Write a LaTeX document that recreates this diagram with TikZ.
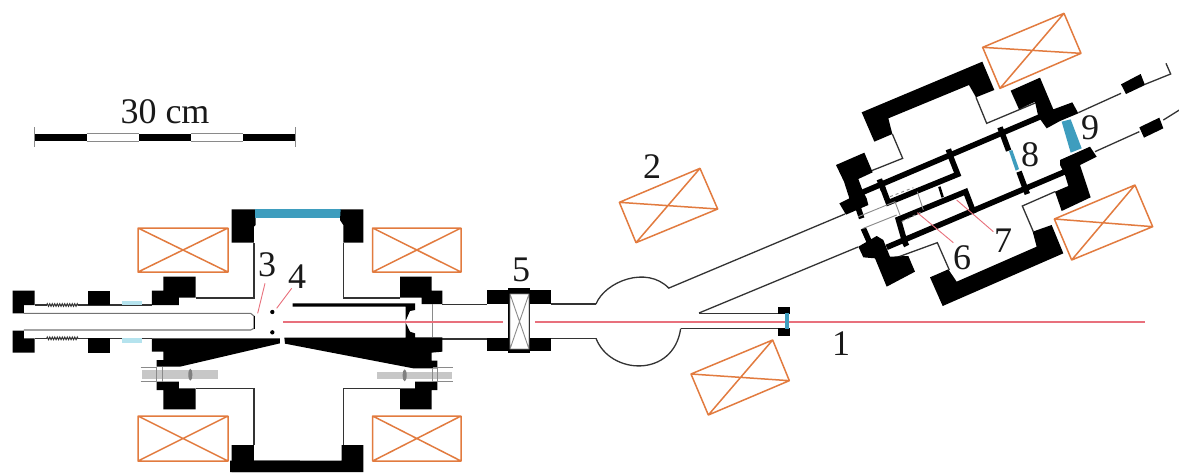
\documentclass[tikz,border=0pt]{standalone}
\usepackage{fontspec}
\setmainfont{Liberation Serif}
\usetikzlibrary{decorations.pathmorphing}
\definecolor{coilc}{HTML}{E27B3F}
\definecolor{winc}{HTML}{3E9DBE}
\definecolor{beamc}{HTML}{E8707C}
\definecolor{palec}{HTML}{B5E3EE}
\definecolor{linec}{HTML}{333333}
\definecolor{greyc}{HTML}{8A8A8A}
\tikzset{
 z1/.style={shift={(0pt,-200pt)},x=0.33333pt,y=-0.33333pt},
 z2/.style={shift={(230pt,-200pt)},x=0.33333pt,y=-0.33333pt},
 z3/.style={shift={(820pt,-50pt)},x=0.33333pt,y=-0.33333pt},
 z4/.style={shift={(470pt,-250pt)},x=0.33333pt,y=-0.33333pt},
 blk/.style={fill=black,draw=none},
 thin line/.style={draw=linec,line width=1.3pt,line join=miter},
 grey line/.style={draw=greyc,line width=0.9pt},
 tube wall/.style={draw=black,line width=5.6pt,line cap=butt},
 pipe/.style={draw=black!55,line width=1.1pt},
 coil/.style={draw=coilc,line width=1.5pt,line join=round},
 beam/.style={draw=beamc,line width=1.5pt},
 pointer/.style={draw=beamc,line width=0.9pt},
 window/.style={fill=winc,draw=none},
 pale/.style={fill=palec,draw=none},
 bolt/.style={fill=black!22,draw=none},
 lab/.style={font=\fontsize{36}{36}\selectfont,text=black!90,inner sep=0pt},
}
\begin{document}
\begin{tikzpicture}[x=1pt,y=-1pt]
\useasboundingbox (0,0) rectangle (1179,472);
\fill[white] (0,0) rectangle (1179,472);

% scale bar
\fill[black] (34.7,133.5) rectangle (86.7,141);
\fill[black] (138.7,133.5) rectangle (190.7,141);
\fill[black] (242.7,133.5) rectangle (295,141);
\draw[grey line] (86.7,133.5) -- (138.7,133.5) (86.7,141) -- (138.7,141) (190.7,133.5) -- (242.7,133.5) (190.7,141) -- (242.7,141);
\draw[grey line] (34.5,127) -- (34.5,147) (295,127) -- (295,147);
\node[lab] (scale) at (165,112) {30 cm};

% coils
\foreach \a/\b/\c/\d in {138/228/228/272,138/228/416/461,372.7/461/228/272,372.7/461/416/461}{
 \draw[coil] (\a,\c) rectangle (\b,\d) (\a,\c) -- (\b,\d) (\a,\d) -- (\b,\c);
}
\begin{scope}[shift={(600pt,-150pt)},x=0.33333pt,y=-0.33333pt]
 \draw[coil] (58,157) -- (300,55) -- (353,177) -- (108,278) -- cycle (58,157) -- (353,177) (300,55) -- (108,278);
\end{scope}
\begin{scope}[shift={(680pt,-330pt)},x=0.33333pt,y=-0.33333pt]
 \draw[coil] (33,132) -- (278,30) -- (328,152) -- (85,255) -- cycle (33,132) -- (328,152) (278,30) -- (85,255);
\end{scope}
\begin{scope}[shift={(970pt,0pt)},x=0.33333pt,y=-0.33333pt]
 \draw[coil] (38,142) -- (282,40) -- (333,160) -- (90,265) -- cycle (38,142) -- (333,160) (282,40) -- (90,265);
\end{scope}
\begin{scope}[z3]
 \draw[coil] (703,507) -- (945,405) -- (998,530) -- (755,630) -- cycle (703,507) -- (998,530) (945,405) -- (755,630);
\end{scope}

% left assembly
\begin{scope}[z1]
 \draw[pipe] (72,340) -- (752,340) -- (762,348) -- (762,385) -- (752,390) -- (72,390);
 \draw[draw=black,line width=1.5pt] (764,348) -- (764,388);
 \draw[thin line] (104,315) -- (140,315) (235,315) -- (456,315);
 \draw[thin line] (104,415) -- (140,415) (235,415) -- (456,415);
 \draw[draw=linec,line width=1pt,decorate,decoration={zigzag,segment length=2.5pt,amplitude=1.3pt}] (140,315) -- (235,315);
 \draw[draw=linec,line width=1pt,decorate,decoration={zigzag,segment length=2.5pt,amplitude=1.3pt}] (140,415) -- (235,415);
 \fill[pale] (365,304) rectangle (425,316);
 \fill[pale] (365,414) rectangle (425,428);
 \fill[blk] (38,272) -- (104,272) -- (104,315) -- (72,315) -- (72,340) -- (38,340) -- cycle;
 \fill[blk] (38,392) -- (72,392) -- (72,415) -- (104,415) -- (104,458) -- (38,458) -- cycle;
 \fill[blk] (265,272) rectangle (330,315);
 \fill[blk] (265,415) rectangle (330,458);
 \fill[blk] (456,315) -- (456,272) -- (490,272) -- (490,230) -- (587,230) -- (587,293) -- (537,293) -- (537,315) -- cycle;
 \draw[thin line] (587,294) -- (762,294) -- (762,128);
 \fill[blk] (695,28) -- (767,28) -- (767,75) -- (762,80) -- (762,128) -- (695,128) -- cycle;
 \fill[blk] (456,415) -- (840,415) -- (840,430) -- (540,500) -- (470,500) -- (470,480) -- (490,480) -- (490,455) -- (456,455) -- cycle;
 \fill[blk] (470,545) -- (537,545) -- (537,565) -- (587,565) -- (587,628) -- (490,628) -- (490,570) -- (470,570) -- cycle;
 \draw[thin line] (587,565) -- (762,565) -- (762,735);
 \fill[bolt] (425,510) rectangle (655,538);
 \draw[grey line] (422,503) -- (470,503) (422,545) -- (470,545) (470,500) -- (470,545) (488,500) -- (488,545);
 \fill[black!50] (571,524) ellipse (6 and 18);
 \fill[blk] (695,735) -- (762,735) -- (762,782) -- (900,782) -- (900,816) -- (695,816) -- cycle;
 \fill[black] (817,336) circle (6.5);
 \fill[black] (817,397) circle (6.5);
 \draw[pointer] (795,250) -- (773,340);
 \draw[pointer] (875,265) -- (830,325);
\end{scope}

% centre assembly
\begin{scope}[z2]
 \fill[window] (75,28) -- (332,28) -- (332,55) -- (75,55) -- cycle;
 \fill[blk] (332,28) -- (400,28) -- (400,128) -- (340,128) -- (340,75) -- (330,60) -- cycle;
 \draw[thin line] (340,128) -- (340,294) -- (510,294);
 \fill[blk] (510,230) -- (605,230) -- (605,272) -- (637,272) -- (637,312) -- (575,312) -- (575,293) -- (510,293) -- cycle;
 \draw[thin line] (637,313) -- (770,313) (637,417) -- (770,417);
 \fill[blk] (188,310) -- (555,310) -- (555,330) -- (540,333) -- (527,362) -- (527,320) -- (188,320) -- cycle;
 \fill[blk] (163,413) -- (527,413) -- (527,368) -- (540,395) -- (555,400) -- (555,412) -- (637,412) -- (637,455) -- (605,458) -- (605,482) -- (622,482) -- (622,505) -- (550,505) -- (165,431) -- cycle;
 \fill[blk] (555,545) -- (622,545) -- (622,570) -- (605,570) -- (605,628) -- (510,628) -- (510,565) -- (555,565) -- cycle;
 \draw[grey line] (607,312) -- (607,412);
 \draw[thin line] (340,735) -- (340,565) -- (510,565);
 \fill[bolt] (440,515) rectangle (665,537);
 \draw[grey line] (610,502) -- (668,502) (610,545) -- (668,545) (607,503) -- (607,545) (622,503) -- (622,545);
 \fill[black!50] (524,526) ellipse (6 and 18);
 \fill[blk] (0,782) -- (335,782) -- (335,735) -- (400,735) -- (400,816) -- (0,816) -- cycle;
\end{scope}

% beams
\draw[beam] (283,322) -- (503,322);
\draw[beam] (535,322) -- (1145,322);

% valve and beam pipe
\begin{scope}[z4]
 \fill[blk] (50,120) rectangle (243,162);
 \fill[blk] (50,264) rectangle (243,304);
 \fill[blk] (115,115) rectangle (180,310);
 \fill[white] (120,132) rectangle (177,297);
 \draw[grey line] (120,132) rectangle (177,297) (120,132) -- (177,297) (120,297) -- (177,132);
 \draw[thin line] (243,162) -- (378,162);
 \draw[thin line] (243,265) -- (378,265);
 \draw[thin line] (378,162) .. controls (405,95) and (530,45) .. (597,115);
 \draw[thin line] (378,265) .. controls (420,375) and (610,385) .. (632,236);
 \draw[thin line] (632,236) -- (925,236);
 \draw[thin line] (688,190) -- (925,190);
 \fill[blk] (925,170) rectangle (960,192);
 \fill[blk] (925,235) rectangle (960,257);
 \fill[window] (944,190) rectangle (956,236);
\end{scope}
\draw[thin line] (669,288) -- (845,214);
\draw[thin line] (699,313) -- (858,247);

% right assembly
\begin{scope}[z3]
 \fill[blk] (125,187) -- (487,35) -- (523,120) -- (468,142) -- (447,105) -- (205,205) -- (217,252) -- (163,275) -- cycle;
 \draw[thin line] (468,142) -- (500,220) -- (655,155);
 \draw[thin line] (217,252) -- (248,325) -- (155,362);
 \fill[blk] (572,122) -- (660,83) -- (700,178) -- (757,157) -- (775,190) -- (720,213) -- (680,235) -- (655,200) -- (645,155) -- (597,178) -- cycle;
 \fill[blk] (330,682) -- (385,658) -- (410,695) -- (650,590) -- (638,545) -- (695,525) -- (730,610) -- (368,768) -- cycle;
 \draw[thin line] (388,660) -- (352,578) -- (215,628);
 \draw[thin line] (640,545) -- (607,468) -- (705,425);
 \fill[blk] (720,330) -- (810,290) -- (830,320) -- (780,345) -- (812,442) -- (725,483) -- (705,425) -- (745,408) -- (735,375) -- (720,345) -- cycle;
 \fill[blk] (48,345) -- (133,308) -- (158,367) -- (115,387) -- (128,422) -- (140,445) -- (145,465) -- (78,494) -- (58,460) -- (88,445) -- (72,395) -- cycle;
 \fill[blk] (115,590) -- (170,558) -- (190,570) -- (210,620) -- (265,618) -- (285,665) -- (200,710) -- (165,625) -- (130,622) -- cycle;
 \fill[blk] (903,103) -- (962,72) -- (975,105) -- (918,132) -- cycle;
 \fill[blk] (958,232) -- (1018,203) -- (1030,235) -- (972,263) -- cycle;
 \draw[thin line] (775,188) -- (903,130) (975,103) -- (1052,72) -- (1038,40);
 \draw[thin line] (825,305) -- (958,245) (1030,210) -- (1078,180);
 \fill[window] (725,215) -- (752,208) -- (785,295) -- (752,308) -- cycle;
 \fill[window] (567,303) -- (577,300) -- (597,357) -- (587,362) -- cycle;
 \draw[tube wall] (125,428) -- (680,192);
 \draw[tube wall] (200,592) -- (735,365);
 \draw[tube wall] (390,315) -- (413,373) -- (205,458) -- (185,405);
 \draw[tube wall] (255,578) -- (235,508) -- (437,425) -- (462,490);
 \draw[tube wall] (115,475) -- (125,505);
 \draw[tube wall] (130,535) -- (150,580);
 \draw[tube wall] (178,388) -- (190,420);
 \draw[tube wall] (540,232) -- (566,302);
 \draw[tube wall] (597,365) -- (622,432);
 \draw[tube wall] (385,298) -- (393,320);
 \draw[tube wall] (250,568) -- (260,588);
 \draw[black,line width=2.5pt] (358,410) -- (368,442);
 \draw[grey line] (115,500) -- (225,455) (130,535) -- (230,495) (225,455) -- (240,495) (292,425) -- (310,480);
 \draw[grey line,dashed] (210,440) -- (280,413) (245,515) -- (305,485);
 \draw[pointer] (292,488) -- (400,578);
 \draw[pointer] (410,450) -- (520,545);
\end{scope}

% labels
\node[lab] (l1) at (841,344) {1};
\node[lab] (l2) at (652,167) {2};
\node[lab] (l3) at (267,265) {3};
\node[lab] (l4) at (297,277) {4};
\node[lab] (l5) at (521,270) {5};
\node[lab] (l6) at (962,258) {6};
\node[lab] (l7) at (1003,241) {7};
\node[lab] (l8) at (1030,155) {8};
\node[lab] (l9) at (1090,128) {9};
\end{tikzpicture}
\end{document}
